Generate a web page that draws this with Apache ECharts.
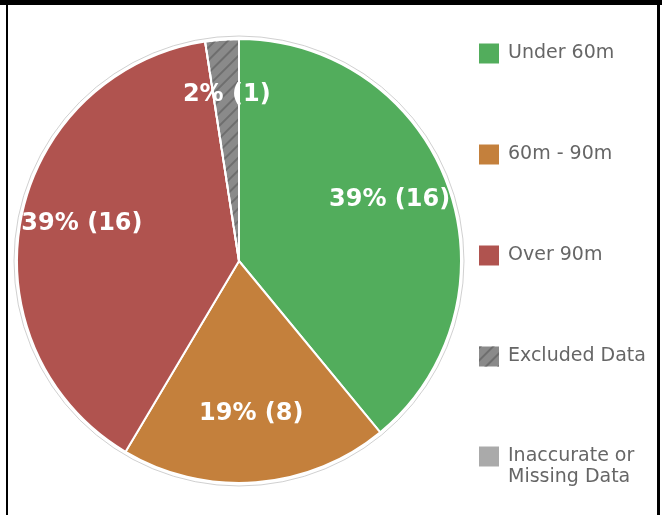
<!DOCTYPE html>
<html>
<head>
<meta charset="utf-8">
<script src="https://cdn.jsdelivr.net/npm/echarts@6/dist/echarts.min.js"></script>
<style>
  html, body { margin: 0; padding: 0; background: #fff; }
  #main { position: absolute; left: 0; top: 0; width: 662px; height: 515px; }
  .frame { position: absolute; background: #000; pointer-events: none; }
</style>
</head>
<body>
<div id="main"></div>
<div class="frame" style="left:0;top:0;width:662px;height:5px;"></div>
<div class="frame" style="left:6px;top:0;width:2px;height:515px;"></div>
<div class="frame" style="left:657px;top:0;width:3px;height:515px;"></div>
<script>
  // data
  var categories = ['Under 60m', '60m - 90m', 'Over 90m', 'Excluded Data', 'Inaccurate or Missing Data'];
  var counts = [16, 8, 16, 1, 0];
  var colors = ['#52ad5c', '#c4803c', '#b0534f', '#8a8a8a', '#aaaaaa'];

  var total = counts.reduce(function (a, b) { return a + b; }, 0);
  var R = 222;
  var cx = 239, cy = 261;

  var sliceData = categories.map(function (name, i) {
    var item = { name: name, value: counts[i], itemStyle: { color: colors[i] } };
    if (name === 'Excluded Data') {
      item.itemStyle.decal = {
        symbol: 'rect',
        symbolSize: 1,
        dashArrayX: [[1, 0]],
        dashArrayY: [1.5, 7],
        rotation: -Math.PI / 4,
        color: '#6e6e6e'
      };
    }
    return item;
  });

  var labelData = categories.map(function (name, i) {
    return { name: name, value: counts[i], label: { show: counts[i] > 0 } };
  });

  var legendBase = {
    orient: 'vertical',
    left: 479,
    padding: 0,
    itemWidth: 20,
    itemHeight: 20,
    itemGap: 80,
    icon: 'rect',
    selectedMode: false,
    itemStyle: { borderWidth: 0 },
    textStyle: {
      fontFamily: 'DejaVu Sans',
      fontSize: 19,
      lineHeight: 21,
      color: '#666',
      padding: [0, 0, 0, 4]
    }
  };

  var chart = echarts.init(document.getElementById('main'));
  chart.setOption({
    animation: false,
    legend: [
      Object.assign({}, legendBase, {
        top: 43,
        data: categories.slice(0, 4)
      }),
      Object.assign({}, legendBase, {
        // two-line entry: leading empty line keeps the first line level with the icon
        top: 425,
        data: categories.slice(4),
        formatter: function (name) {
          return '\n' + name.replace(' or ', ' or\n');
        }
      })
    ],
    series: [
      {
        // thin outline around the pie
        type: 'pie',
        silent: true,
        center: [cx, cy],
        radius: [0, R + 3],
        label: { show: false },
        labelLine: { show: false },
        itemStyle: { color: '#fff', borderColor: '#d0d0d0', borderWidth: 1 },
        data: [{ name: '', value: 1 }]
      },
      {
        type: 'pie',
        center: [cx, cy],
        radius: [0, R],
        startAngle: 90,
        clockwise: true,
        label: { show: false },
        labelLine: { show: false },
        itemStyle: { borderColor: '#fff', borderWidth: 2 },
        data: sliceData
      },
      {
        // label layer, centred a little above the pie
        type: 'pie',
        silent: true,
        center: [cx, cy - 7],
        radius: [92, R],
        startAngle: 90,
        clockwise: true,
        itemStyle: { color: 'rgba(0,0,0,0)' },
        labelLine: { show: false },
        label: {
          show: true,
          position: 'inside',
          color: '#fff',
          fontFamily: 'DejaVu Sans',
          fontWeight: 'bold',
          fontSize: 24,
          formatter: function (p) {
            return Math.floor(p.value / total * 100) + '% (' + p.value + ')';
          }
        },
        data: labelData
      }
    ]
  });
</script>
</body>
</html>
